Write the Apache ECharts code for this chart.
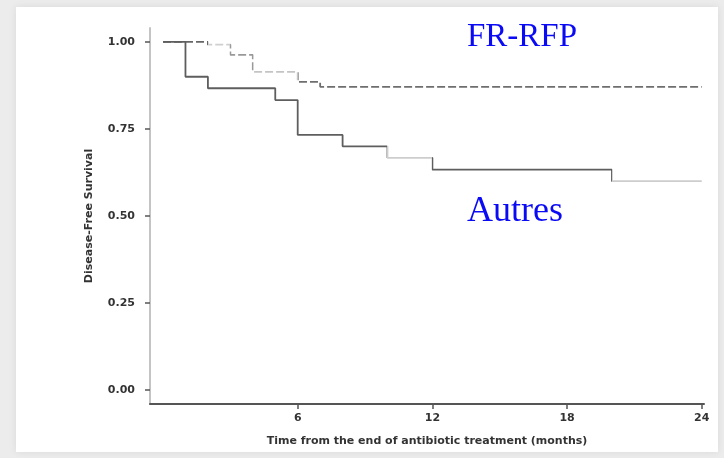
<!DOCTYPE html>
<html>
<head>
<meta charset="utf-8">
<script src="https://cdn.jsdelivr.net/npm/echarts@6/dist/echarts.min.js"></script>
<style>
html,body{margin:0;padding:0;background:#ececec;}
#c{width:724px;height:458px;}
</style>
</head>
<body>
<div id="c"></div>
<script>
// Data (Kaplan-Meier step curves)
const autresTime = [0, 1, 2, 5, 6, 8, 10, 12, 20, 24];
const autresSurv = [1.00, 0.90, 0.867, 0.833, 0.733, 0.70, 0.667, 0.633, 0.60, 0.60];
const frTime = [0, 2, 3, 4, 6, 7, 24];
const frSurv = [1.00, 0.992, 0.963, 0.914, 0.885, 0.871, 0.871];
const xTicks = [6, 12, 18, 24];
const yTicks = [0, 0.25, 0.5, 0.75, 1.0];
const xTitle = 'Time from the end of antibiotic treatment (months)';
const yTitle = 'Disease-Free Survival';
const labelFR = 'FR-RFP';
const labelAutres = 'Autres';

const frData = frTime.map((t, i) => [t, frSurv[i]]);
const autresData = autresTime.map((t, i) => [t, autresSurv[i]]);

const chart = echarts.init(document.getElementById('c'), null, {renderer: 'canvas'});
const axisFont = {fontFamily: 'DejaVu Sans', fontSize: 11, fontWeight: 'bold', color: '#333'};

chart.setOption({
  backgroundColor: '#ececec',
  animation: false,
  graphic: [
    {type: 'rect', z: -10, shape: {x: 16, y: 7, width: 702, height: 445},
     style: {fill: '#ffffff', shadowBlur: 8, shadowColor: 'rgba(0,0,0,0.08)'}},
    {type: 'text', z: 10, style: {x: 467, y: 21, text: labelFR, font: '33px "Liberation Serif"', fill: '#0a0af5', verticalAlign: 'top'}},
    {type: 'text', z: 10, style: {x: 467, y: 194, text: labelAutres, font: '36px "Liberation Serif"', fill: '#0a0af5', verticalAlign: 'top'}}
  ],
  grid: {left: 150, right: 20, top: 28, bottom: 54, containLabel: false},
  xAxis: {
    type: 'value', min: -0.58, max: 24.1,
    name: xTitle, nameLocation: 'middle', nameGap: 32,
    nameTextStyle: axisFont,
    splitLine: {show: false},
    axisLine: {onZero: false, lineStyle: {color: '#555', width: 2}},
    axisTick: {show: true, length: 5, customValues: xTicks, lineStyle: {color: '#555', width: 1.5}},
    axisLabel: Object.assign({margin: 9, customValues: xTicks}, axisFont)
  },
  yAxis: {
    type: 'value', min: -0.04, max: 1.04,
    name: yTitle, nameLocation: 'middle', nameGap: 55, nameRotate: 90,
    nameTextStyle: axisFont,
    splitLine: {show: false},
    axisLine: {show: true, onZero: false, lineStyle: {color: '#c4c4c4', width: 2}},
    axisTick: {show: true, length: 5, customValues: yTicks, lineStyle: {color: '#555', width: 1.5}},
    axisLabel: Object.assign({margin: 15, customValues: yTicks, formatter: v => v.toFixed(2)}, axisFont)
  },
  visualMap: [
    {show: false, type: 'piecewise', seriesIndex: 0, dimension: 0,
     pieces: [
       {lt: 2, color: '#666'},
       {gte: 2, lt: 3, color: '#cfcfcf'},
       {gte: 3, lt: 4, color: '#999'},
       {gte: 4, lt: 6, color: '#c4c4c4'},
       {gte: 6, color: '#6e6e6e'}
     ]},
    {show: false, type: 'piecewise', seriesIndex: 1, dimension: 0,
     pieces: [
       {lt: 10, color: '#5e5e5e'},
       {gte: 10, lt: 12, color: '#cdcdcd'},
       {gte: 12, lt: 20, color: '#5e5e5e'},
       {gte: 20, color: '#cdcdcd'}
     ]}
  ],
  series: [
    {name: labelFR, type: 'line', step: 'end', data: frData, symbol: 'none',
     lineStyle: {width: 1.8, type: [8, 3]}},
    {name: labelAutres, type: 'line', step: 'end', data: autresData, symbol: 'none',
     lineStyle: {width: 1.8}}
  ]
});
</script>
</body>
</html>
